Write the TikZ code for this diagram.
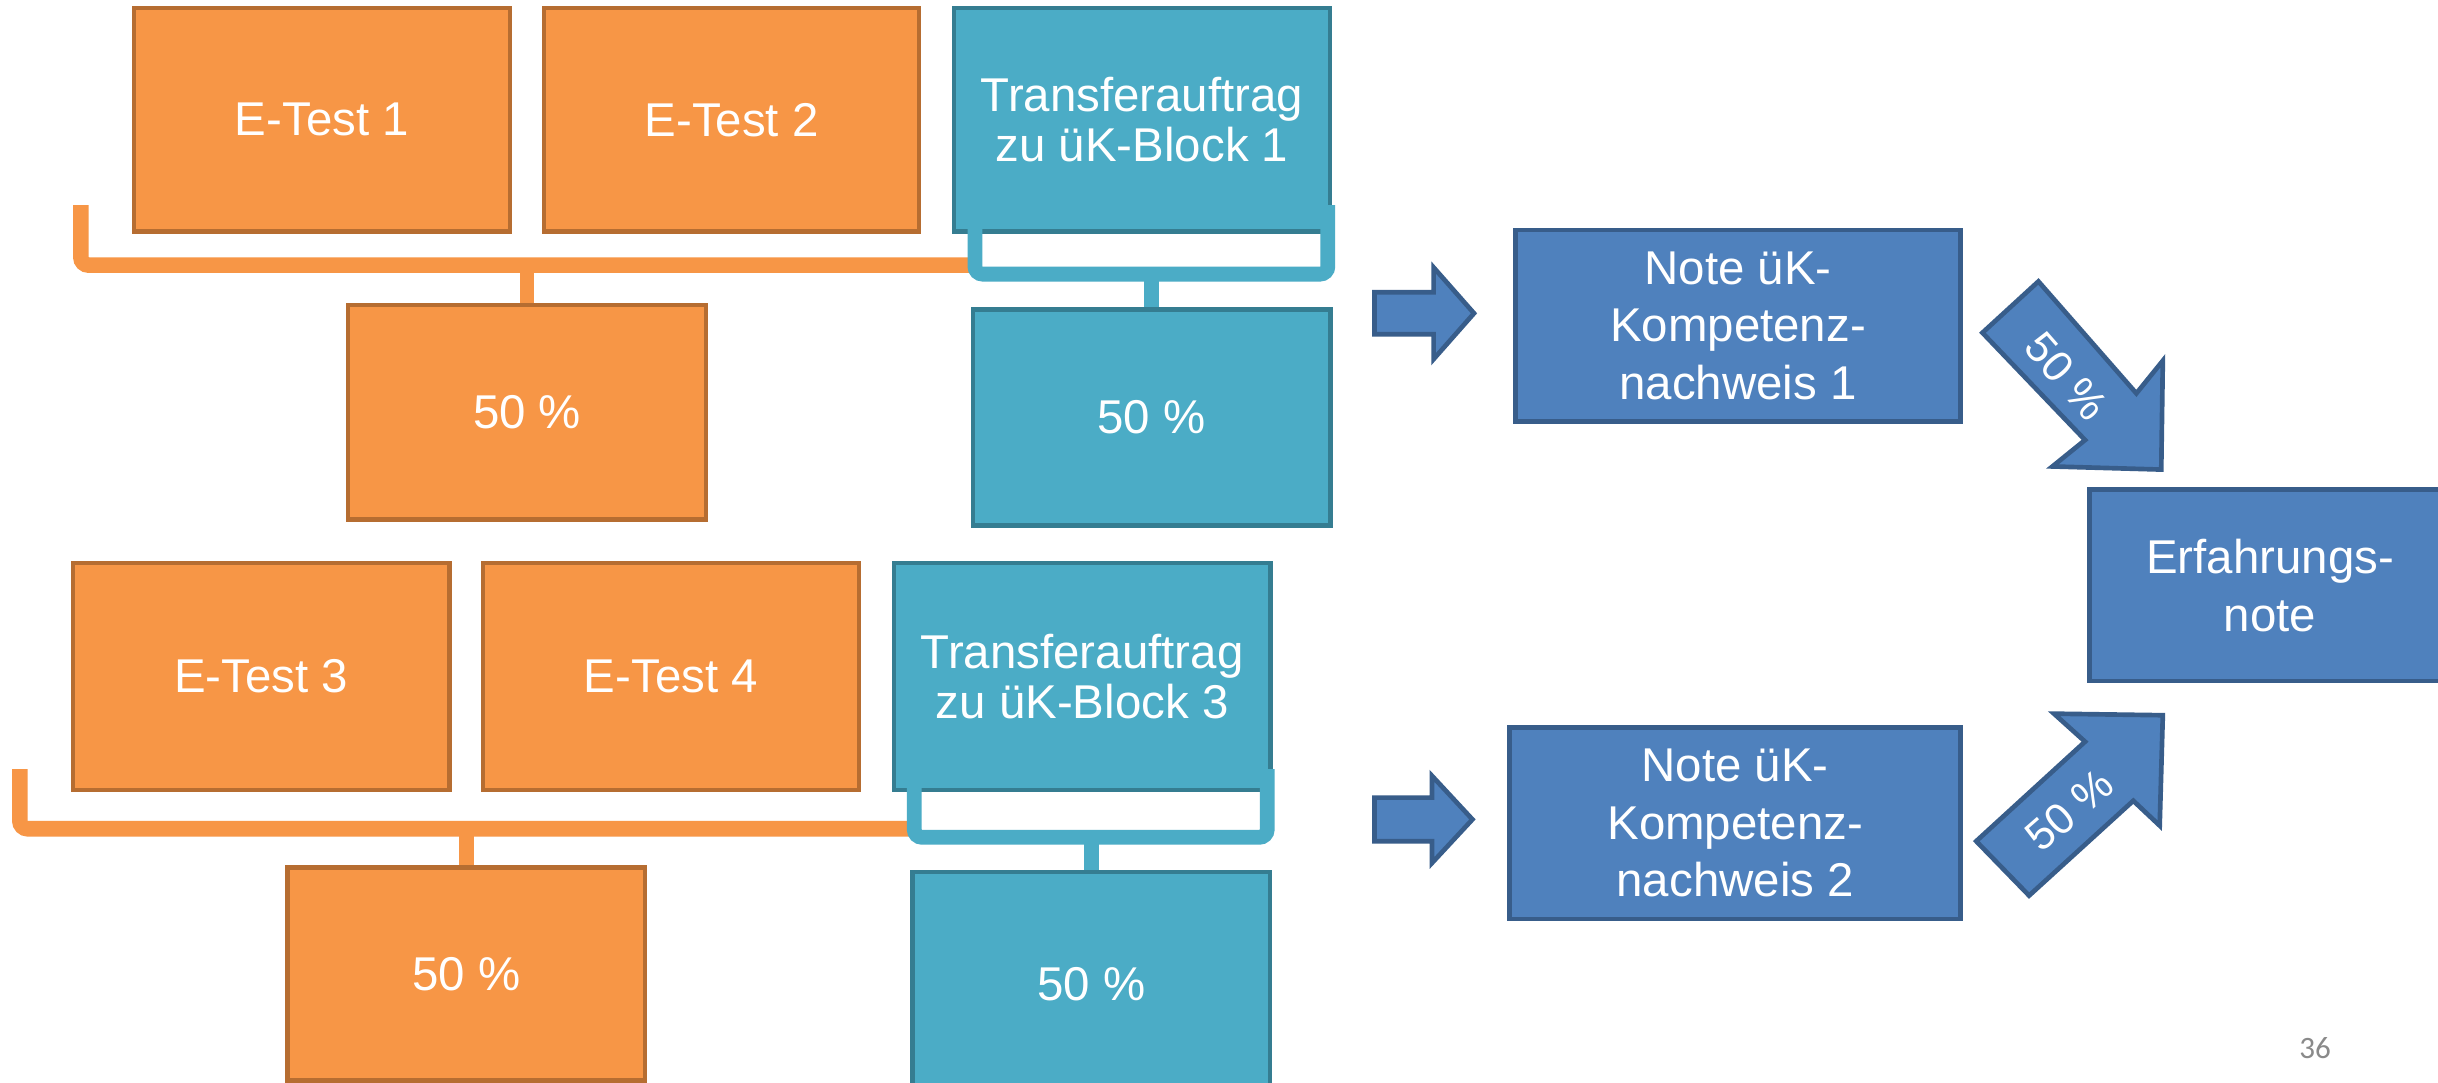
\documentclass[tikz,border=0pt]{standalone}
\usepackage{fontspec}
\setmainfont{Liberation Sans}
\newfontfamily\pagefont{Carlito}
\definecolor{ofill}{HTML}{F79646}
\definecolor{oline}{HTML}{B66D31}
\definecolor{tfill}{HTML}{4BACC6}
\definecolor{tline}{HTML}{357D91}
\definecolor{bfill}{HTML}{4F81BD}
\definecolor{bline}{HTML}{385D8A}
\definecolor{pgray}{HTML}{8A8A8A}
\begin{document}
\begin{tikzpicture}[x=1pt,y=-1pt,
  box/.style={rectangle, inner sep=0pt, align=center, text=white, line width=2.8pt},
  obox/.style={box, fill=ofill, draw=oline, font=\fontsize{30.5}{32}\selectfont},
  tbox/.style={box, fill=tfill, draw=tline, font=\fontsize{30.5}{32}\selectfont},
  bbox/.style={box, fill=bfill, draw=bline, line width=3pt, font=\fontsize{30.5}{37}\selectfont},
  obrack/.style={draw=ofill, line width=10pt, rounded corners=5pt},
  tbrack/.style={draw=tfill, line width=9.5pt, rounded corners=5pt},
  ostem/.style={draw=ofill, line width=9.5pt},
  tstem/.style={draw=tfill, line width=9.5pt},
  barrow/.style={fill=bfill, draw=bline, line width=3pt, line join=miter},
  pct/.style={text=white, inner sep=0pt, font=\fontsize{28}{28}\selectfont}
]
\path[use as bounding box, fill=white] (0,0) rectangle (1568,696);
\clip (0,0) rectangle (1568,696);

% ---------- top group ----------
\node[obox, minimum width=242pt, minimum height=144pt] (e1) at (207,77) {E-Test 1};
\node[obox, minimum width=241pt, minimum height=144pt] (e2) at (470.5,77) {E-Test 2};
\node[tbox, minimum width=242pt, minimum height=144pt] (t1) at (734.5,77) {Transferauftrag\\zu üK-Block 1};

\coordinate (ob1L) at (52,132);
\coordinate (ob1R) at (626,170.5);
\coordinate (ob1S) at (339,170.5);
\draw[obrack] (ob1L) |- (ob1R);

\coordinate (tb1L) at (627,132);
\coordinate (tb1R) at (854,132);
\coordinate (tb1S) at (740.6,176.3);
\draw[tbrack] (tb1L) |- (tb1S) -| (tb1R);

\node[obox, minimum width=230pt, minimum height=138pt] (o50a) at (339,265) {50 \%};
\node[tbox, minimum width=230pt, minimum height=139pt] (t50a) at (740.6,268.5) {50 \%};
\draw[ostem] (ob1S) -- (o50a.north);
\draw[tstem] (tb1S) -- (t50a.north);

% ---------- bottom group ----------
\node[obox, minimum width=242pt, minimum height=146pt] (e3) at (168,435) {E-Test 3};
\node[obox, minimum width=242pt, minimum height=146pt] (e4) at (431.5,435) {E-Test 4};
\node[tbox, minimum width=242pt, minimum height=146pt] (t3) at (696,435) {Transferauftrag\\zu üK-Block 3};

\coordinate (ob2L) at (12.75,494.6);
\coordinate (ob2R) at (588,533);
\coordinate (ob2S) at (300,533);
\draw[obrack] (ob2L) |- (ob2R);

\coordinate (tb2L) at (588,494.6);
\coordinate (tb2R) at (815,494.6);
\coordinate (tb2S) at (701.8,538.5);
\draw[tbrack] (tb2L) |- (tb2S) -| (tb2R);

\node[obox, minimum width=230pt, minimum height=137pt] (o50b) at (300,626.5) {50 \%};
\node[tbox, minimum width=230pt, minimum height=144pt] (t50b) at (701.8,633) {50 \%};
\draw[ostem] (ob2S) -- (o50b.north);
\draw[tstem] (tb2S) -- (t50b.north);

% ---------- right side ----------
\node[bbox, minimum width=286pt, minimum height=123pt] (n1) at (1117.8,209.5) {Note üK-\\Kompetenz-\\nachweis 1};
\node[bbox, minimum width=290pt, minimum height=123pt] (n2) at (1116,529.5) {Note üK-\\Kompetenz-\\nachweis 2};
\node[bbox, minimum width=232pt, minimum height=123pt, font=\fontsize{30.5}{37.5}\selectfont] (erf) at (1460,376.5) {Erfahrungs-\\note};

% block arrows
\draw[barrow] (884,188) -- (922,188) -- (922,172) -- (948,201.5) -- (922,231) -- (922,215) -- (884,215) -- cycle;
\draw[barrow] (884,513) -- (921,513) -- (921,499) -- (947,527) -- (921,555) -- (921,541) -- (884,541) -- cycle;

% diagonal arrows
\draw[barrow] (1275,214) -- (1311,181) -- (1374,253) -- (1391,232) -- (1390,302) -- (1320,300) -- (1341,283) -- cycle;
\node[pct, rotate=-48.8] (p1) at (1329,242) {50 \%};
\draw[barrow] (1271,541) -- (1341,477) -- (1321,459) -- (1391,460) -- (1389,531) -- (1372,515) -- (1305,576) -- cycle;
\node[pct, rotate=41] (p2) at (1331,521) {50 \%};

% page number
\node[text=pgray, inner sep=0pt, font=\pagefont\fontsize{20}{20}\selectfont] (pg) at (1489,674) {36};
\end{tikzpicture}
\end{document}
